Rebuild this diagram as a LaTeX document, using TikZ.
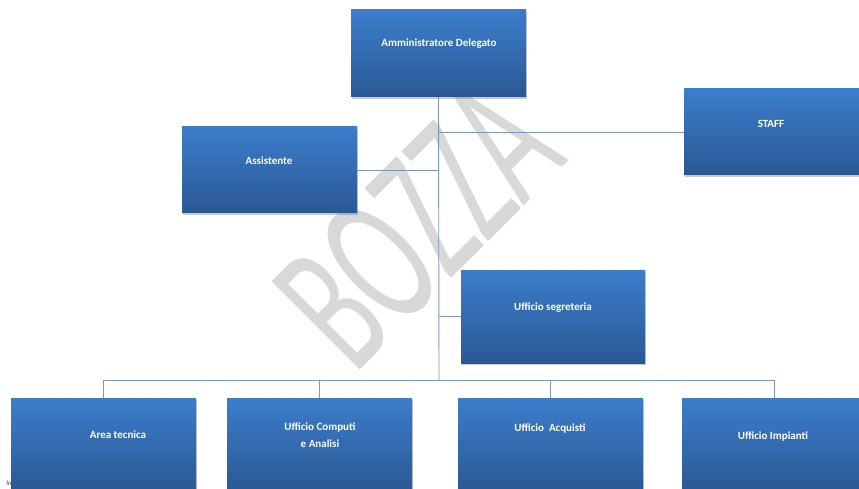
\documentclass[tikz,border=0pt]{standalone}
\usepackage{fontspec}
\setmainfont{Carlito}
\newfontfamily\wmfont{Carlito}
\usetikzlibrary{shadows,calc}
\definecolor{boxtop}{RGB}{60,125,203}
\definecolor{boxbot}{RGB}{43,88,148}
\definecolor{connc}{RGB}{125,152,188}
\definecolor{wmc}{RGB}{216,216,216}
\tikzset{
  orgbox/.style={draw=none, rectangle, inner sep=0pt, top color=boxtop, bottom color=boxbot,
    drop shadow={shadow xshift=1.2pt, shadow yshift=-1.6pt, opacity=0.35, fill=black!60}},
  lbl/.style={text=white, font=\bfseries\fontsize{11}{17}\selectfont, align=center, inner sep=0pt},
  conn/.style={draw=connc, line width=0.9pt},
  wm/.style={text=wmc, font=\wmfont\fontsize{113}{113}\selectfont, inner sep=0pt}
}
\begin{document}
\begin{tikzpicture}[x=1pt,y=-1pt]
\useasboundingbox (0,0) rectangle (859,489);
\clip (0,0) rectangle (859,489);
% watermark
\node[wm, rotate=45] (bozza) at (418,224) {\scalebox{1}[1.72]{BOZZA}};
% small cut text
\node[font=\itshape\fontsize{7}{7}\selectfont, text=black!75, inner sep=0pt] (frag) at (9,483) {In};
% boxes
\node[orgbox, minimum width=175pt, minimum height=87pt] (ad) at (438.5,53.5) {};
\node[orgbox, minimum width=175pt, minimum height=86pt] (staff) at (771.5,132) {};
\node[orgbox, minimum width=175pt, minimum height=86pt] (ass) at (269.5,170) {};
\node[orgbox, minimum width=184pt, minimum height=93pt] (seg) at (553,316.5) {};
\node[orgbox, minimum width=185pt, minimum height=93pt] (at) at (103.5,444.5) {};
\node[orgbox, minimum width=185pt, minimum height=93pt] (uca) at (319.5,444.5) {};
\node[orgbox, minimum width=185pt, minimum height=93pt] (uac) at (550.5,444.5) {};
\node[orgbox, minimum width=185pt, minimum height=93pt] (uim) at (774.5,444.5) {};
% connectors
\coordinate (bus) at (439,380);
\draw[conn] (ad.south) -- (bus);
\draw[conn] (staff.west) -- (staff.west -| ad.south);
\draw[conn] (ass.east) -- (ass.east -| ad.south);
\draw[conn] (seg.west) -- (seg.west -| ad.south);
\draw[conn] (bus) -| (at.north);
\draw[conn] (bus) -| (uca.north);
\draw[conn] (bus) -| (uac.north);
\draw[conn] (bus) -| (uim.north);
% labels
\node[lbl] (tad) at (439,44) {Amministratore Delegato};
\node[lbl] (tstaff) at (771,124) {STAFF};
\node[lbl] (tass) at (269,161) {Assistente};
\node[lbl] (tseg) at (553,308) {Ufficio segreteria};
\node[lbl] (tat) at (118,435) {Area tecnica};
\node[lbl] (tuca) at (320,435.5) {Ufficio Computi\\e Analisi};
\node[lbl] (tuac) at (550,428) {Ufficio\ \ Acquisti};
\node[lbl] (tuim) at (773,436) {Ufficio Impianti};
\end{tikzpicture}
\end{document}
